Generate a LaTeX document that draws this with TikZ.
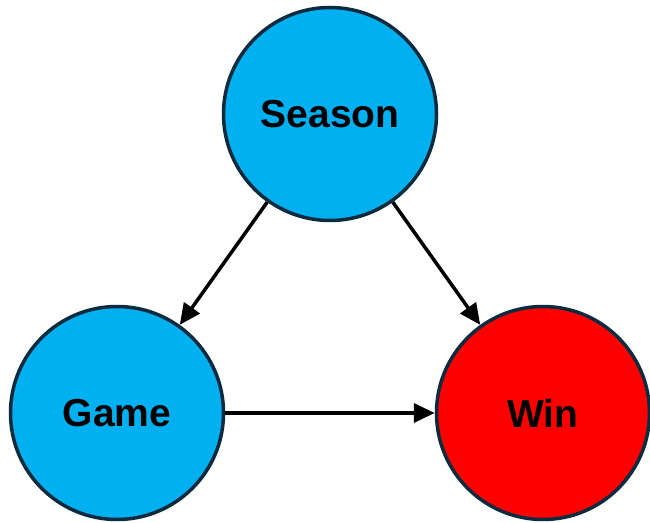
\documentclass[tikz,border=0pt]{standalone}
\usepackage{fontspec}
\setmainfont{Liberation Sans}
\usetikzlibrary{arrows.meta}
\definecolor{cblue}{HTML}{00B0F0}
\definecolor{cred}{HTML}{FF0000}
\definecolor{cedge}{HTML}{0D2B3E}
\begin{document}
\begin{tikzpicture}[x=1pt,y=1pt,
  vnode/.style={circle,draw=cedge,line width=3.5pt,minimum size=213pt,inner sep=0pt,font=\fontsize{39}{46}\selectfont\bfseries},
  edge/.style={line width=3.5pt,-{Triangle[length=21pt,width=19pt]}}]
\useasboundingbox (0,0) rectangle (650,522);
\node[vnode,fill=cblue] (season) at (330,408) {Season};
\node[vnode,fill=cblue] (game) at (117,109) {Game};
\node[vnode,fill=cred] (win) at (543,109) {Win};
\draw[edge] (season) -- (game);
\draw[edge] (season) -- (win);
\draw[edge] (game) -- (win);
\end{tikzpicture}
\end{document}
